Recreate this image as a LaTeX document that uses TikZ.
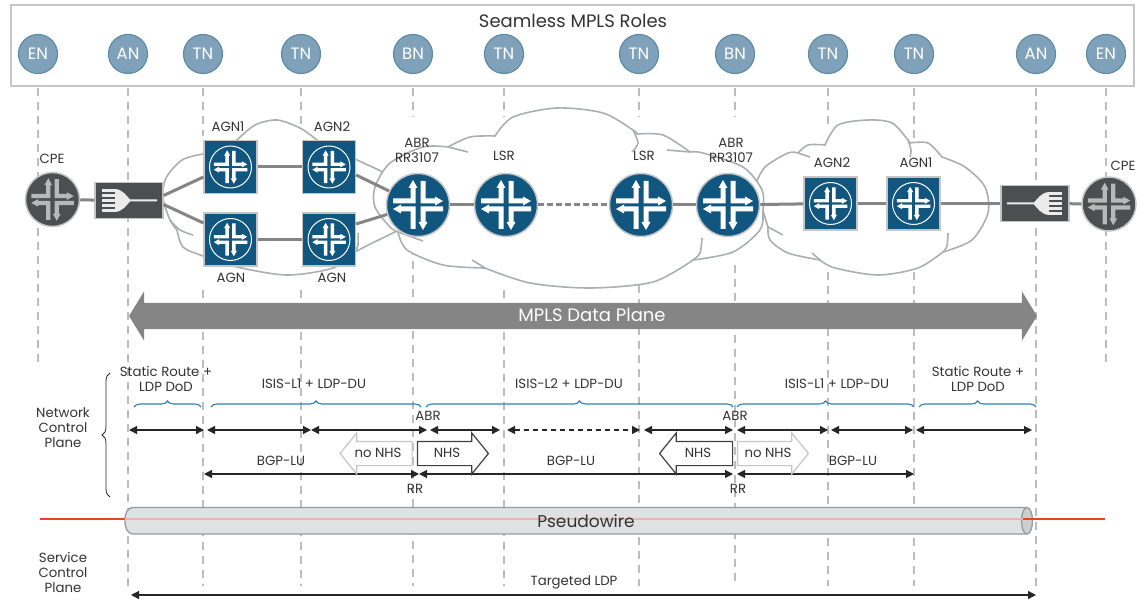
\documentclass[tikz,border=0pt]{standalone}
\usepackage{fontspec}
\setmainfont{Poppins}
\usetikzlibrary{positioning,arrows.meta,shapes.arrows,decorations.pathreplacing}

\definecolor{rolefill}{HTML}{7FA2BA}
\definecolor{rolerim}{HTML}{5F8BA6}
\definecolor{routerblue}{HTML}{11567F}
\definecolor{cpegrey}{HTML}{4D4E50}
\definecolor{rimgrey}{HTML}{C4C5C6}
\definecolor{linkgrey}{HTML}{858585}
\definecolor{cloudgrey}{HTML}{ACAFB1}
\definecolor{rulegrey}{HTML}{BDBDBD}
\definecolor{bracketblue}{HTML}{2F7FB8}
\definecolor{labeltext}{HTML}{333333}
\definecolor{pwred}{HTML}{EE4023}
\definecolor{pwpale}{HTML}{E8B7B0}
\definecolor{tunnelfill}{HTML}{E0E1E2}
\definecolor{tunnelface}{HTML}{CDCED0}
\definecolor{tunnelrim}{HTML}{999A9C}

\tikzset{
	routerglyph/.pic={
		\foreach \turn in {0,180} {
			\path [pic actions, rotate=\turn] (-25,-6.5) -- (-7.5,-6.5) -- (-7.5,-17) -- (-9.5,-17) -- (-5,-25) -- (-0.5,-17) -- (-2.5,-17) -- (-2.5,-1.5) -- (-25,-1.5) -- cycle;
			\path [pic actions, rotate=\turn] (2.5,-24) -- (7.5,-24) -- (7.5,-6.5) -- (17,-6.5) -- (17,-8.5) -- (25,-4) -- (17,0.5) -- (17,-1.5) -- (2.5,-1.5) -- cycle;
		}
	},
	switchglyph/.pic={
		\foreach \bar in {-10,-5,0,5,10} {
			\path [pic actions] (-27,\bar-1.3) rectangle (-13,\bar+1.3);
		}
		\path [pic actions] (-14,-11.5) .. controls (-6,-11) and (-2,-4) .. (1,-1) -- (28,-1) -- (28,1) -- (1,1) .. controls (-2,4) and (-6,11) .. (-14,11.5) -- cycle;
	}
}

\begin{document}
\begin{tikzpicture}[x=1pt,y=-1pt]
	% Define styles
	\tikzstyle{rolebox} = [rectangle, draw=rimgrey, line width=1.8pt, minimum width=1123pt, minimum height=81pt]
	\tikzstyle{rolenode} = [circle, draw=rolerim, fill=rolefill, line width=1.2pt, minimum size=39pt, inner sep=0pt, text=white, font=\fontsize{16.5}{18}\selectfont]
	\tikzstyle{lsrnode} = [circle, draw=rimgrey, fill=routerblue, line width=1.5pt, minimum size=63pt, inner sep=0pt]
	\tikzstyle{cpenode} = [circle, draw=rimgrey, fill=cpegrey, line width=1.5pt, minimum size=54pt, inner sep=0pt]
	\tikzstyle{agnnode} = [rectangle, draw=rimgrey, fill=routerblue, line width=1.2pt, minimum size=53pt, inner sep=0pt]
	\tikzstyle{switchnode} = [rectangle, draw=rimgrey, fill=cpegrey, line width=1.2pt, minimum width=68pt, minimum height=36pt, inner sep=0pt]
	\tikzstyle{cloudline} = [draw=cloudgrey, fill=white, line width=1.6pt]
	\tikzstyle{cloudtail} = [draw=cloudgrey, line width=1.6pt]
	\tikzstyle{linkline} = [draw=linkgrey, line width=3pt]
	\tikzstyle{rolerule} = [draw=rulegrey, line width=1.2pt, dash pattern=on 8pt off 6pt]
	\tikzstyle{textlabel} = [text=labeltext, inner sep=0pt, align=center, font=\fontsize{13.3}{15}\selectfont]
	\tikzstyle{spanline} = [draw=black!85, line width=1.2pt, {Triangle[length=8pt,width=8pt]}-{Triangle[length=8pt,width=8pt]}]
	\tikzstyle{spandash} = [dash pattern=on 5pt off 4pt]
	\tikzstyle{bracket} = [draw=bracketblue, line width=1.1pt, decorate, decoration={brace,amplitude=6pt}]
	\tikzstyle{nhsarrow} = [single arrow, fill=white, line width=1.2pt, inner xsep=0pt, inner ysep=11.5pt, single arrow head extend=8.5pt, single arrow tip angle=102]

	\useasboundingbox (0,0) rectangle (1145,601);

	% Place role nodes and their rules
	\node [rolebox] (roles) at (572.5,45.5) {};
	\node [textlabel, font=\fontsize{18}{20}\selectfont] (rolestitle) at (573,21) {Seamless MPLS Roles};
	\foreach \rolename/\rolex/\roletext/\rulea/\ruleb/\rulec in {
		enl/38/EN/88/88/367, anl/128/AN/88/88/586, tna/203/TN/136/290/586, tnb/301/TN/136/290/586,
		bnl/413/BN/117/247/586, tnc/504/TN/117/290/586, tnd/639/TN/117/285/586, bnr/735/BN/117/265/586,
		tne/828/TN/128/272/586, tnf/914/TN/138/272/586, anr/1036/AN/88/88/590, enr/1106/EN/88/88/367} {
		\node [rolenode] (\rolename) at (\rolex,54) {\roletext};
		\coordinate (\rolename top) at (\rolex,88);
		\coordinate (\rolename mid) at (\rolex,\rulea);
		\coordinate (\rolename low) at (\rolex,\ruleb);
		\coordinate (\rolename end) at (\rolex,\rulec);
		\draw [rolerule] (\rolename top) -- (\rolename mid);
		\draw [rolerule] (\rolename low) -- (\rolename end);
	}

	% Clouds
	\path [cloudline] plot [smooth] coordinates {(203,154) (182,160) (166,178) (163,198) (170,220) (177,230)}
		-- plot [smooth] coordinates {(177,230) (183,247) (203,256) (237,267) (287,275) (333,268) (355,252) (395,232)}
		-- plot [smooth] coordinates {(395,185) (382,172) (355,159) (317,140)}
		-- plot [smooth] coordinates {(317,140) (300,128) (277,120) (255,125) (237,140)} -- cycle;
	\draw [cloudtail] plot [smooth] coordinates {(170,220) (180,230) (193,235)};
	\draw [cloudtail] plot [smooth] coordinates {(355,252) (358,245) (358,233)};

	\path [cloudline] plot [smooth] coordinates {(755,185) (765,167) (788,153) (798,153)}
		-- plot [smooth] coordinates {(798,153) (808,145) (825,145)}
		-- plot [smooth] coordinates {(825,145) (838,125) (868,120) (892,123) (908,140) (910,143)}
		-- plot [smooth] coordinates {(910,143) (928,143) (942,157)}
		-- plot [smooth] coordinates {(942,157) (965,167) (985,187) (988,213) (972,240) (943,252)}
		-- plot [smooth] coordinates {(943,252) (918,268) (878,275) (835,268) (820,260)}
		-- plot [smooth] coordinates {(820,260) (788,253) (770,240) (768,227)} -- cycle;
	\draw [cloudtail] (798,153) -- (810,157);
	\draw [cloudtail] plot [smooth] coordinates {(908,140) (911,150) (910,157)};
	\draw [cloudtail] plot [smooth] coordinates {(943,252) (947,246) (948,233)};
	\draw [cloudtail] (820,260) -- (812,253);
	\draw [cloudtail] (768,227) -- (783,235);

	\path [cloudline] plot [smooth] coordinates {(398,232) (390,227) (375,207) (375,187) (390,163) (423,147) (448,147)}
		-- plot [smooth] coordinates {(448,147) (470,137) (495,136)}
		-- plot [smooth] coordinates {(495,136) (513,117) (557,108) (603,113) (633,130) (637,134)}
		-- plot [smooth] coordinates {(637,134) (663,135) (690,152)}
		-- plot [smooth] coordinates {(690,152) (703,153) (743,167) (762,190) (763,210) (760,230) (733,252) (693,260)}
		-- plot [smooth] coordinates {(693,260) (653,282) (590,288) (530,283) (485,268)}
		-- plot [smooth] coordinates {(485,268) (443,265) (407,250) (398,232)} -- cycle;
	\draw [cloudtail] (448,147) -- (468,152);
	\draw [cloudtail] plot [smooth] coordinates {(633,130) (638,143) (632,152)};
	\draw [cloudtail] (667,150) -- (690,152);
	\draw [cloudtail] plot [smooth] coordinates {(693,260) (700,253) (702,238)};
	\draw [cloudtail] (485,268) -- (472,260);
	\draw [cloudtail] (398,232) -- (423,241);

	% Place routers
	\node [cpenode] (cpel) at (52.5,199.5) {};
	\node [switchnode] (swl) at (129,200.5) {};
	\node [agnnode] (agnla) at (230.5,167) {};
	\node [agnnode] (agnlb) at (329,167) {};
	\node [agnnode] (agnlc) at (230.5,239.5) {};
	\node [agnnode] (agnld) at (329,239.5) {};
	\node [lsrnode] (abrl) at (418,205) {};
	\node [lsrnode] (lsrl) at (506,205) {};
	\node [lsrnode] (lsrr) at (641,205) {};
	\node [lsrnode] (abrr) at (728,205) {};
	\node [agnnode] (agnra) at (830.5,203.5) {};
	\node [agnnode] (agnrb) at (913.5,203.5) {};
	\node [switchnode] (swr) at (1035,203.5) {};
	\node [cpenode] (cper) at (1109,204) {};

	% Router glyphs
	\foreach \router in {abrl,lsrl,lsrr,abrr} {
		\pic [fill=white] at (\router) {routerglyph};
	}
	\foreach \router in {agnla,agnlb,agnlc,agnld,agnra,agnrb} {
		\draw [white, line width=1pt] (\router) circle (21);
		\pic [fill=white, scale=0.67] at (\router) {routerglyph};
	}
	\foreach \router in {cpel,cper} {
		\pic [fill=black!28, scale=0.85] at (\router) {routerglyph};
	}
	\pic [fill=black!8] at (swl) {switchglyph};
	\pic [fill=black!8, xscale=-1] at (swr) {switchglyph};

	% Draw links
	\draw [linkline] (cpel) -- (swl);
	\draw [linkline] ([yshift=5pt]swl.east) -- ([yshift=-10pt]agnla.west);
	\draw [linkline] ([yshift=-4pt]swl.east) -- ([yshift=16.5pt]agnlc.west);
	\draw [linkline] (agnla) -- (agnlb);
	\draw [linkline] (agnlc) -- (agnld);
	\draw [linkline] ([yshift=-8pt]agnlb.east) -- (abrl);
	\draw [linkline] ([yshift=15.5pt]agnld.east) -- (abrl);
	\draw [linkline] (abrl) -- (lsrl);
	\draw [linkline, dash pattern=on 5.5pt off 3.5pt] (lsrl) -- (lsrr);
	\draw [linkline] (lsrr) -- (abrr);
	\draw [linkline] (abrr) -- (agnra);
	\draw [linkline] (agnra) -- (agnrb);
	\draw [linkline] (agnrb) -- (swr);
	\draw [linkline] (swr) -- (cper);

	% Router labels
	\node [textlabel] (cpeltext) at (52,159) {CPE};
	\node [textlabel] (agnatext) at (228,127) {AGN1};
	\node [textlabel] (agnbtext) at (332,127) {AGN2};
	\node [textlabel] (agnctext) at (231,278) {AGN};
	\node [textlabel] (agndtext) at (332,278) {AGN};
	\node [textlabel] (abrltext) at (417,150) {ABR\\RR3107};
	\node [textlabel] (lsrltext) at (504,156) {LSR};
	\node [textlabel] (lsrrtext) at (644,156) {LSR};
	\node [textlabel] (abrrtext) at (731,150) {ABR\\RR3107};
	\node [textlabel] (agnetext) at (832,163) {AGN2};
	\node [textlabel] (agnftext) at (916,163) {AGN1};
	\node [textlabel] (cperext) at (1123,166) {CPE};

	% Data plane
	\node [double arrow, fill=linkgrey, minimum height=908pt, inner xsep=0pt, inner ysep=13pt,
		double arrow head extend=11.5pt, double arrow tip angle=117] (dataplane) at (583,316) {};
	\node [text=white, inner sep=0pt, font=\fontsize{18}{20}\selectfont] (dataplanetext) at (592,315) {MPLS Data Plane};

	% Network control plane
	\node [textlabel] (networktext) at (63,428) {Network\\Control\\Plane};
	\coordinate (netbracea) at (110,497);
	\coordinate (netbraceb) at (110,373);
	\draw [draw=black!85, line width=0.8pt, decorate, decoration={brace,amplitude=8pt}] (netbracea) -- (netbraceb);
	\node [textlabel] (statictextl) at (166,378.5) {Static Route +\\LDP DoD};
	\node [textlabel] (isisa) at (314,384) {ISIS-L1 + LDP-DU};
	\node [textlabel] (isisb) at (569,384) {ISIS-L2 + LDP-DU};
	\node [textlabel] (isisc) at (837,384) {ISIS-L1 + LDP-DU};
	\node [textlabel] (statictextr) at (978,378.5) {Static Route +\\LDP DoD};
	\foreach \bracketname/\xa/\xb in {bra/134/201, brb/211/421, brc/426/733, brd/737/914, bre/919/1036} {
		\coordinate (\bracketname a) at (\xa,407);
		\coordinate (\bracketname b) at (\xb,407);
		\draw [bracket] (\bracketname a) -- (\bracketname b);
	}
	\node [textlabel] (abrtextl) at (428,416) {ABR};
	\node [textlabel] (abrtextr) at (735,416) {ABR};
	\foreach \spanname/\xa/\xb/\spanlook in {spa/129/204/solid, spb/207/311/solid, spc/311/427/solid, spd/430/500/solid,
		spe/507/640/spandash, spf/644/733/solid, spg/737/828/solid, sph/831/913/solid, spi/916/1032/solid} {
		\coordinate (\spanname a) at (\xa,430);
		\coordinate (\spanname b) at (\xb,430);
		\draw [spanline, \spanlook] (\spanname a) -- (\spanname b);
	}

	% BGP-LU
	\foreach \spanname/\xa/\xb in {bgpa/204/419, bgpb/419/733, bgpc/737/914} {
		\coordinate (\spanname a) at (\xa,474);
		\coordinate (\spanname b) at (\xb,474);
		\draw [spanline] (\spanname a) -- (\spanname b);
	}
	\node [nhsarrow, draw=rimgrey, shape border rotate=180, minimum height=72pt] (nonhsl) at (381,453.5) {};
	\node [nhsarrow, draw=black!75, minimum height=71pt] (nhsl) at (448,453.5) {};
	\node [nhsarrow, draw=black!75, shape border rotate=180, minimum height=73pt] (nhsr) at (701,453.5) {};
	\node [nhsarrow, draw=rimgrey, minimum height=71pt] (nonhsr) at (768,453.5) {};
	\node [textlabel] (nonhsltext) at (378,453) {no NHS};
	\node [textlabel] (nhsltext) at (447,453) {NHS};
	\node [textlabel] (nhsrtext) at (698,453) {NHS};
	\node [textlabel] (nonhsrtext) at (768,453) {no NHS};
	\node [textlabel] (bgpatext) at (281,461) {BGP-LU};
	\node [textlabel] (bgpbtext) at (571,461) {BGP-LU};
	\node [textlabel] (bgpctext) at (853,461) {BGP-LU};
	\node [textlabel] (rrtextl) at (415,489) {RR};
	\node [textlabel] (rrtextr) at (738,489) {RR};

	% Pseudowire
	\coordinate (pwleft) at (40,519);
	\coordinate (pwstart) at (125,519);
	\coordinate (pwface) at (1023,519);
	\coordinate (pwright) at (1105,519);
	\draw [pwred, line width=1.8pt] (pwleft) -- (pwstart);
	\draw [draw=tunnelrim, fill=tunnelfill, line width=1.3pt] (1027,507.5) -- (134,507.5) .. controls (127,507.5) and (125,513) .. (125,520.5) .. controls (125,528) and (127,534) .. (134,534) -- (1027,534);
	\draw [draw=tunnelrim, fill=tunnelface, line width=1.3pt] (1027,520.75) ellipse [x radius=5.5, y radius=13.25];
	\draw [pwpale, line width=1.5pt] (pwstart) -- (pwface);
	\draw [pwred, line width=1.8pt] (pwface) -- (pwright);
	\node [text=labeltext, inner sep=0pt, font=\fontsize{17}{19}\selectfont] (pwtext) at (586,521) {Pseudowire};

	% Service control plane
	\node [textlabel] (servicetext) at (63,572) {Service\\Control\\Plane};
	\node [textlabel] (tldptext) at (574,582) {Targeted LDP};
	\coordinate (tldpa) at (131,595);
	\coordinate (tldpb) at (1036,595);
	\draw [spanline] (tldpa) -- (tldpb);
\end{tikzpicture}
\end{document}
